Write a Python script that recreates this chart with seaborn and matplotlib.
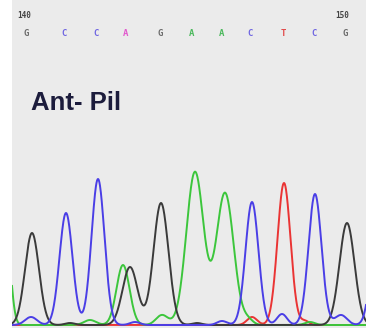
import numpy as np
import pandas as pd
import matplotlib
matplotlib.use("Agg")
import matplotlib.pyplot as plt
import seaborn as sns

# called bases, positions 140..150
bases = ["G", "C", "C", "A", "G", "A", "A", "C", "T", "C", "G"]
base_x = [26, 64, 96, 126, 160, 192, 222, 250, 283, 314, 345]
base_colors = ["#555555", "#5a4fe0", "#5a4fe0", "#e040c8", "#555555",
               "#2fb043", "#2fb043", "#5a4fe0", "#e03030", "#5a4fe0", "#555555"]
tick_labels = ["140", "150"]
tick_x = [24, 342]

# trace peaks per channel: scan position, height, width
g_pos = [32, 70, 130, 161, 197, 347]
g_hgt = [92, 2, 58, 122, 2, 102]
g_wid = [7, 5, 7.5, 7.5, 5, 7.5]

c_pos = [31, 66, 98, 135, 222, 252, 282, 315, 341, 378]
c_hgt = [8, 112, 146, 3, 4, 123, 11, 131, 10, 110]
c_wid = [6, 6.5, 6.5, 5, 5, 6.5, 5, 6.5, 6, 6.5]

a_pos = [6, 90, 123, 162, 195, 225, 248, 310]
a_hgt = [95, 5, 60, 10, 153, 132, 5, 3]
a_wid = [4.5, 6, 6.5, 6, 8.7, 8.7, 5, 5]

t_pos = [252, 284, 305]
t_hgt = [8, 142, 4]
t_wid = [5, 6.5, 4]

channels = {"T": (t_pos, t_hgt, t_wid), "A": (a_pos, a_hgt, a_wid),
            "G": (g_pos, g_hgt, g_wid), "C": (c_pos, c_hgt, c_wid)}
palette = {"G": "#3a3a3a", "C": "#4a3ee6", "A": "#3cc63c", "T": "#ea3434"}
layer = {"T": 2, "A": 3, "G": 4, "C": 5}

scan = np.linspace(12, 366, 1200)
frames = []
for name, (pos, hgt, wid) in channels.items():
    sig = np.zeros_like(scan)
    for p, h, w in zip(pos, hgt, wid):
        sig += h * np.exp(-(scan - p) ** 2 / (2 * w ** 2))
    frames.append(pd.DataFrame({"scan": scan, "signal": sig, "base": name}))
df = pd.concat(frames, ignore_index=True)

fig = plt.figure(figsize=(3.66, 3.31), dpi=100, facecolor="white")
ax = fig.add_axes([12 / 366, 3 / 331, 354 / 366, 328 / 331])
ax.set_facecolor("#ebebeb")

for name in channels:
    sns.lineplot(data=df[df["base"] == name], x="scan", y="signal",
                 color=palette[name], linewidth=1.4, ax=ax,
                 sort=False, estimator=None, zorder=layer[name])

for b, x, c in zip(bases, base_x, base_colors):
    ax.text(x, 292, b, color=c, fontsize=6.5, family="DejaVu Sans Mono",
            fontweight="bold", ha="center", va="center", alpha=0.85)
for t, x in zip(tick_labels, tick_x):
    ax.text(x, 310, t, color="#444444", fontsize=5.5, family="DejaVu Sans Mono",
            fontweight="bold", ha="center", va="center")

ax.text(31, 222, "Ant- Pil", color="#1c1c3c", fontsize=18.5, fontweight="bold",
        family="Liberation Sans", ha="left", va="center")

ax.set_xlim(12, 366)
ax.set_ylim(-3, 325)
ax.set_xticks([])
ax.set_yticks([])
ax.set_xlabel("")
ax.set_ylabel("")
for s in ax.spines.values():
    s.set_visible(False)

fig.savefig("out.png", dpi=100, facecolor=fig.get_facecolor())
